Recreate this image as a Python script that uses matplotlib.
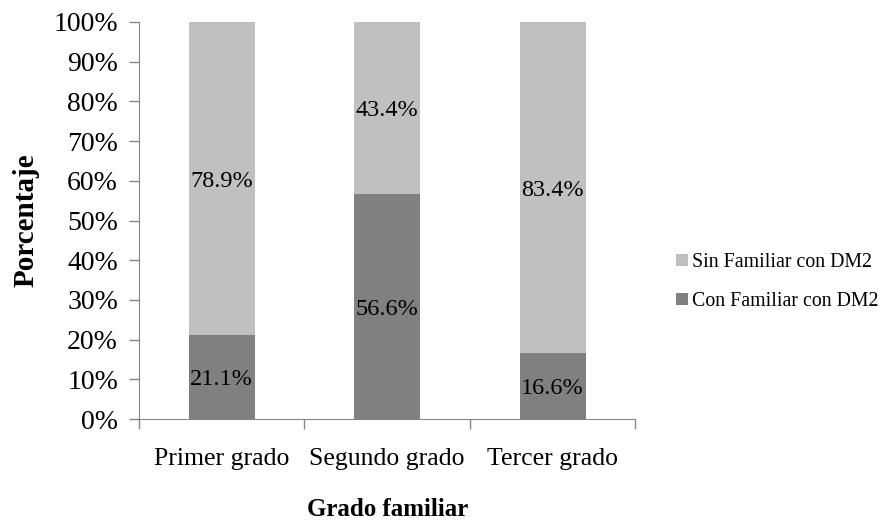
import matplotlib
matplotlib.use("Agg")
import matplotlib.pyplot as plt
from matplotlib.ticker import FixedLocator

categories = ["Primer grado", "Segundo grado", "Tercer grado"]
con_familiar = [21.1, 56.6, 16.6]
sin_familiar = [78.9, 43.4, 83.4]
y_ticks = [0, 10, 20, 30, 40, 50, 60, 70, 80, 90, 100]
y_tick_labels = [f"{v}%" for v in y_ticks]

plt.rcParams["font.family"] = ["Liberation Serif", "DejaVu Serif"]

fig = plt.figure(figsize=(8.9, 5.22), dpi=100)
ax = fig.add_axes([0.156, 0.197, 0.558, 0.761])

x = list(range(len(categories)))
dark = "#808080"
light = "#C0C0C0"
w = 0.4
b1 = ax.bar(x, con_familiar, width=w, color=dark, label="Con Familiar con DM2")
b2 = ax.bar(x, sin_familiar, width=w, bottom=con_familiar, color=light,
            label="Sin Familiar con DM2")

for xi, c, s in zip(x, con_familiar, sin_familiar):
    ax.text(xi, c / 2, f"{c:.1f}%", ha="center", va="center_baseline", fontsize=17.5)
    ax.text(xi, c + s / 2, f"{s:.1f}%", ha="center", va="center_baseline", fontsize=17.5)

ax.set_xlim(-0.5, 2.5)
ax.set_ylim(0, 100)
ax.set_yticks(y_ticks)
ax.set_yticklabels(y_tick_labels, fontsize=20)
ax.set_xticks(x)
ax.set_xticklabels(categories, fontsize=18.5)
ax.xaxis.set_minor_locator(FixedLocator([-0.5, 0.5, 1.5, 2.5]))
ax.tick_params(axis="x", which="major", length=0, pad=21)
ax.tick_params(axis="x", which="minor", length=7, color="#868686", width=1)
ax.tick_params(axis="y", length=7, color="#868686", width=1, pad=8)

for side in ["top", "right"]:
    ax.spines[side].set_visible(False)
for side in ["left", "bottom"]:
    ax.spines[side].set_color("#868686")

ax.set_ylabel("Porcentaje", fontsize=21, fontweight="bold", labelpad=10)
ax.set_xlabel("Grado familiar", fontsize=18, fontweight="bold", labelpad=20)

fig.legend(handles=[b2, b1], labels=["Sin Familiar con DM2", "Con Familiar con DM2"],
           loc="center left", bbox_to_anchor=(0.74, 0.46), frameon=False,
           fontsize=14.3, handlelength=0.6, handleheight=0.6, handletextpad=0.2,
           labelspacing=1.0)

fig.savefig("out.png", dpi=100)
